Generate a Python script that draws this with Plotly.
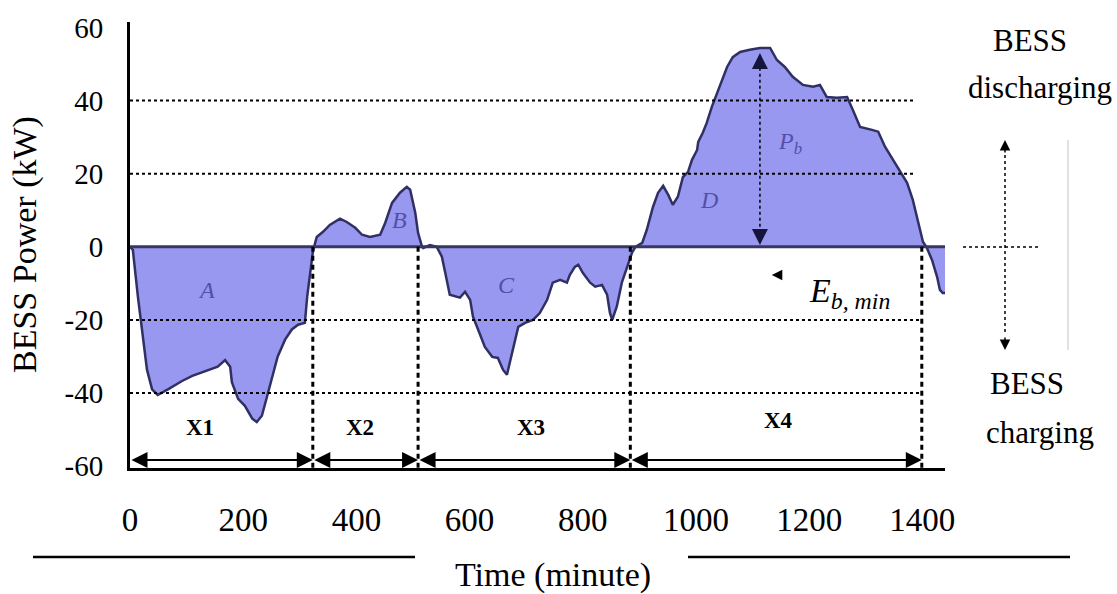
import plotly.graph_objects as go

# ---------------- data ----------------
time_min = [0, 5, 14, 21, 30, 39, 49, 67, 92, 110, 133, 145, 155, 168, 177, 180, 191, 203, 216, 224,
            233, 242, 251, 261, 274, 286, 297, 309, 313, 318, 323, 327,
            330, 341, 353, 371, 383, 398, 410, 424, 442, 451, 463, 477, 489, 495, 504, 509, 516, 518,
            530, 542,
            551, 557, 565, 583, 592, 601, 606, 615, 627, 640, 650, 659, 666, 671, 677, 686, 698, 712,
            724, 737, 747, 760, 772, 777, 786, 792, 800, 813, 822, 834, 843, 848, 852, 860, 869, 878,
            887, 893,
            905, 913, 924, 933, 942, 951, 959, 968, 977, 986, 993, 1002, 1004, 1012, 1019, 1028, 1037,
            1046, 1055, 1065, 1078, 1095, 1113, 1131, 1143, 1157, 1171, 1189, 1207, 1219, 1231, 1249,
            1267, 1277, 1290, 1311, 1322, 1334, 1348, 1360, 1373, 1383, 1392, 1401, 1408, 1417, 1426,
            1431, 1436, 1440]
power_kw = [0, -0.8, -13.7, -22.6, -33.6, -39, -40.5, -39, -36.7, -35.3, -34, -33.4, -32.8, -31, -32.8,
            -37, -41.6, -43.5, -47, -47.9,
            -46.2, -41, -35.5, -30, -25.4, -22.6, -21.3, -20.8, -13.7, -7, -1.5, 1,
            2.7, 4.1, 6, 7.7, 6.8, 5.2, 3.3, 2.7, 3.3, 6.6, 12, 14.8, 16.4, 15.6, 9.3, 3.8, 0, -0.3,
            0.5, 0,
            -2.7, -7.1, -13.1, -13.9, -12.3, -14.5, -19.1, -22.6, -27.4, -30.1, -30.4, -33.6, -35, -31.7,
            -27.4, -21.9, -20.8, -20,
            -18.1, -14.5, -9.8, -9, -9.8, -7.7, -5.5, -4.9, -7.1, -9.8, -10.9, -10.4, -13.1, -18.1, -20,
            -16.4, -9.8, -5.5,
            -1.6, 0,
            1.1, 4.6, 10.9, 14.8, 16.7, 14.2, 11.5, 13.7, 19.1, 20.5, 23.8, 26.5, 28.7, 31.2, 33.9, 38.3,
            42.1, 45.7, 49.2, 51.9, 53.3, 53.9, 54.4, 54.4, 51.1, 49.2, 46.5, 44.3, 43.8, 44.3, 41, 40.8,
            41, 37.5, 32.8, 32, 31.5, 27.4, 23.8, 21.1, 17.5, 12.9, 7.4, 1.4, -0.3, -3.6, -8.2,
            -11.8, -12.6, -12.6]

x_ticks = [0, 200, 400, 600, 800, 1000, 1200, 1400]
y_ticks = [-60, -40, -20, 0, 20, 40, 60]
y_tick_text = ["-60", "-40", "-20", "0", "20", "40", "60"]
segment_bounds = [0, 323, 509, 884, 1399]
segment_labels = ["X1", "X2", "X3", "X4"]
dotted_levels = [40, 20, -20, -40]
dotted_level_ends = [1387, 1387, 1399, 1399]
region_labels = ["A", "B", "C", "D", "P<sub>b</sub>"]

SERIF = "Liberation Serif, Times New Roman, serif"

fig = go.Figure()
fig.add_trace(go.Scatter(
    x=time_min, y=power_kw, mode="lines", fill="tozeroy",
    fillcolor="rgb(152,152,240)",
    line=dict(color="rgb(48,48,100)", width=2.5),
    hoverinfo="skip", showlegend=False))

shapes = []
# zero line
shapes.append(dict(type="line", xref="x", yref="y", x0=0, x1=1440, y0=0, y1=0,
                   line=dict(color="rgb(55,55,95)", width=3)))
# dotted horizontal levels
for lvl, xe in zip(dotted_levels, dotted_level_ends):
    shapes.append(dict(type="line", xref="x", yref="y", x0=0, x1=xe, y0=lvl, y1=lvl,
                       line=dict(color="black", width=2, dash="dot")))
# dashed vertical segment bounds
for b in segment_bounds[1:]:
    shapes.append(dict(type="line", xref="x", yref="y", x0=b, x1=b, y0=0, y1=-60.5,
                       line=dict(color="black", width=3, dash="5px,4px")))
# vertical dotted line inside D (Pb)
shapes.append(dict(type="line", xref="x", yref="y", x0=1113, x1=1113, y0=49, y1=4,
                   line=dict(color="black", width=1.5, dash="dot")))

# pixel -> paper helpers for decorations outside the plot area
L, R, T, B = 130, 945, 22, 468
def px(xp):
    return (xp - L) / (R - L)
def py(yp):
    return (B - yp) / (B - T)

# decorative lines under the axis
shapes.append(dict(type="line", xref="paper", yref="paper", x0=px(33), x1=px(415), y0=py(557), y1=py(557),
                   line=dict(color="black", width=2.5)))
shapes.append(dict(type="line", xref="paper", yref="paper", x0=px(688), x1=px(1070), y0=py(557), y1=py(557),
                   line=dict(color="black", width=2.5)))
# right side indicator
shapes.append(dict(type="line", xref="paper", yref="paper", x0=px(1005), x1=px(1005), y0=py(155), y1=py(335),
                   line=dict(color="black", width=1.5, dash="dot")))
shapes.append(dict(type="line", xref="paper", yref="paper", x0=px(963), x1=px(1040), y0=py(247), y1=py(247),
                   line=dict(color="black", width=1.5, dash="dot")))
shapes.append(dict(type="line", xref="paper", yref="paper", x0=px(1068), x1=px(1068), y0=py(140), y1=py(350),
                   line=dict(color="rgb(215,215,215)", width=1.5)))

annotations = []
# double-headed arrows for segments
for i in range(len(segment_labels)):
    annotations.append(dict(x=segment_bounds[i + 1], y=-58.3, ax=segment_bounds[i], ay=-58.3,
                            xref="x", yref="y", axref="x", ayref="y", text="", showarrow=True,
                            arrowhead=2, startarrowhead=2, arrowside="end+start",
                            arrowsize=1.6, startarrowsize=1.6, arrowwidth=2, arrowcolor="black",
                            standoff=0, startstandoff=0))
seg_label_pos = [(124, -49.5), (406, -49.5), (708, -49.5), (1145, -47.6)]
for lab, (lx, ly) in zip(segment_labels, seg_label_pos):
    annotations.append(dict(x=lx, y=ly, xref="x", yref="y", text="<b>%s</b>" % lab, showarrow=False,
                            font=dict(family=SERIF, size=23, color="black")))
# region letters
reg_pos = [(136, -11.8), (477, 7.4), (665, -10.4), (1023, 12.9), (1166, 28.5)]
for lab, (lx, ly) in zip(region_labels, reg_pos):
    annotations.append(dict(x=lx, y=ly, xref="x", yref="y", text="<i>%s</i>" % lab, showarrow=False,
                            font=dict(family=SERIF, size=24, color="rgb(80,80,170)")))
# Pb arrowheads
annotations.append(dict(x=1113, y=53, xref="x", yref="y", ax=0, ay=14, text="", showarrow=True,
                        arrowhead=2, arrowsize=1.6, arrowwidth=2, arrowcolor="rgb(20,20,60)"))
annotations.append(dict(x=1113, y=0.5, xref="x", yref="y", ax=0, ay=-14, text="", showarrow=True,
                        arrowhead=2, arrowsize=1.6, arrowwidth=2, arrowcolor="rgb(20,20,60)"))
annotations.append(dict(x=1134, y=-7.7, xref="x", yref="y", ax=10, ay=0, text="", showarrow=True,
                        arrowhead=2, arrowsize=1.4, arrowwidth=1.5, arrowcolor="black"))
# E_b,min
annotations.append(dict(x=1272, y=-12.5, xref="x", yref="y",
                        text="<i>E</i><sub><i>b, min</i></sub>", showarrow=False,
                        font=dict(family=SERIF, size=34, color="black")))
# right-side indicator arrowheads
annotations.append(dict(x=px(1005), y=py(140), xref="paper", yref="paper", ax=0, ay=14, text="",
                        showarrow=True, arrowhead=2, arrowsize=1.4, arrowwidth=1.5, arrowcolor="black"))
annotations.append(dict(x=px(1005), y=py(350), xref="paper", yref="paper", ax=0, ay=-14, text="",
                        showarrow=True, arrowhead=2, arrowsize=1.4, arrowwidth=1.5, arrowcolor="black"))
# right-side texts
for txt, xp_, yp_ in [("BESS", 1030, 40), ("discharging", 1040, 88), ("BESS", 1027, 383), ("charging", 1040, 432)]:
    annotations.append(dict(x=px(xp_), y=py(yp_), xref="paper", yref="paper", text=txt, showarrow=False,
                            xanchor="center", yanchor="middle",
                            font=dict(family=SERIF, size=31, color="black")))
# axis titles
annotations.append(dict(x=px(25), y=py(245), xref="paper", yref="paper", text="BESS Power (kW)",
                        textangle=-90, showarrow=False, xanchor="center", yanchor="middle",
                        font=dict(family=SERIF, size=34, color="black")))
annotations.append(dict(x=px(553), y=py(575), xref="paper", yref="paper", text="Time (minute)",
                        showarrow=False, xanchor="center", yanchor="middle",
                        font=dict(family=SERIF, size=34, color="black")))

fig.update_layout(
    width=1117, height=594,
    margin=dict(l=L, r=1117 - R, t=T, b=594 - B),
    paper_bgcolor="white", plot_bgcolor="white",
    font=dict(family=SERIF, color="black"),
    shapes=shapes, annotations=annotations,
    xaxis=dict(range=[0, 1440], tickvals=x_ticks, showline=True, linecolor="black", linewidth=3,
               ticks="", showgrid=False, zeroline=False, ticklabelstandoff=20,
               tickfont=dict(family=SERIF, size=33, color="black")),
    yaxis=dict(range=[-60.5, 61.5], tickvals=y_ticks, ticktext=y_tick_text, showline=True,
               linecolor="black", linewidth=3,
               ticks="", showgrid=False, zeroline=False, ticklabelstandoff=18,
               tickfont=dict(family=SERIF, size=29, color="black")),
)

fig.write_html("out.html")
